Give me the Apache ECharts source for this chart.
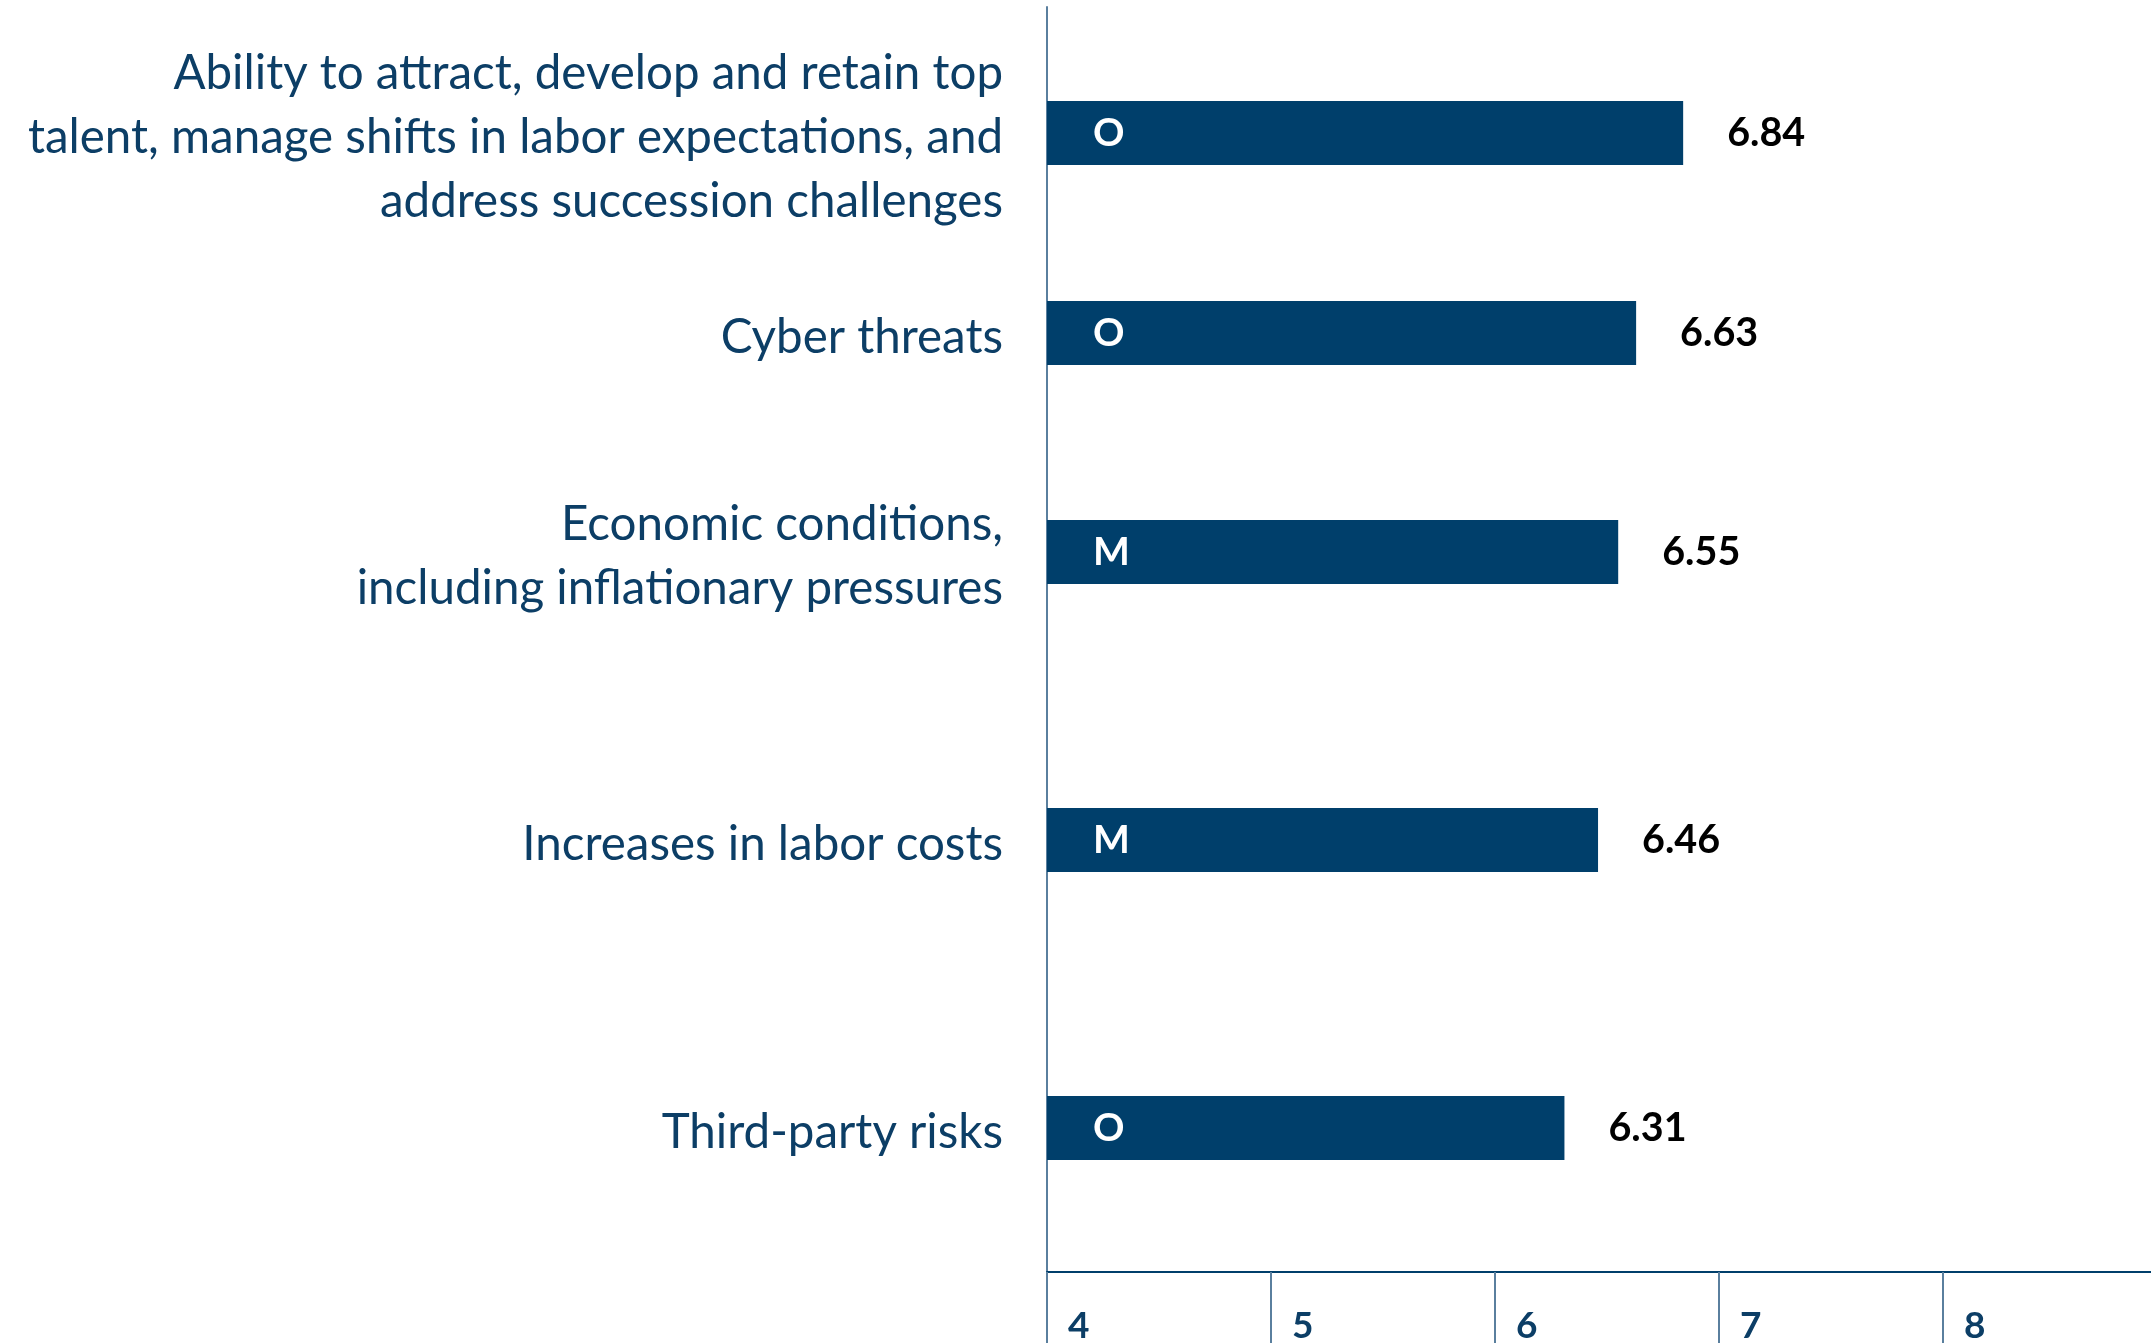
<!DOCTYPE html>
<html>
<head>
<meta charset="utf-8">
<script src="https://cdn.jsdelivr.net/npm/echarts@6/dist/echarts.min.js"></script>
<style>
  html, body { margin: 0; padding: 0; background: #ffffff; }
  #chart { width: 2151px; height: 1343px; }
</style>
</head>
<body>
<div id="chart"></div>
<script>
// Top risks, average score
const categories = [
  'Ability to attract, develop and retain top\ntalent, manage shifts in labor expectations, and\naddress succession challenges',
  'Cyber threats',
  'Economic conditions,\nincluding inflationary pressures',
  'Increases in labor costs',
  'Third-party risks'
];
const scores = [6.84, 6.63, 6.55, 6.46, 6.31];
const riskTypes = ['O', 'O', 'M', 'M', 'O'];
const axisMin = 4;
const axisMax = 9;
const axisStep = 1;

// Layout
const plotLeft = 1047;
const unitPx = 224;
const plotWidth = (axisMax - axisMin) * unitPx;
const plotTop = 7;
const plotBottom = 1272;
const rowCenters = [133, 333, 552, 840, 1128];
const barHeight = 64;
const labelDrop = 5; // row titles sit a little below the bar centre line

const NAVY = '#003f6b';
const TEXT = '#0c3e66';
const AXIS = '#5a7f9e';
const FONT = 'Lato, "Noto Sans", sans-serif';

const grids = [{
  left: plotLeft, top: plotTop, width: plotWidth, height: plotBottom - plotTop,
  containLabel: false, outerBoundsMode: 'none'
}];
const xAxes = [{
  gridIndex: 0, type: 'value', min: axisMin, max: axisMax, interval: axisStep,
  axisLine: { show: true, onZero: false, lineStyle: { color: NAVY, width: 2 } },
  axisTick: { show: true, length: 80, lineStyle: { color: AXIS, width: 2 } },
  axisLabel: {
    show: true, color: TEXT, fontFamily: FONT, fontWeight: 'bold', fontSize: 37,
    align: 'left', verticalAlign: 'top', margin: 36, padding: [0, 0, 0, 21],
    hideOverlap: false
  },
  splitLine: { show: false }
}];
const yAxes = [{
  gridIndex: 0, type: 'value', min: 0, max: 1,
  axisLine: { show: true, onZero: false, lineStyle: { color: AXIS, width: 2 } },
  axisTick: { show: false }, axisLabel: { show: false }, splitLine: { show: false }
}];
const series = [];

categories.forEach((name, i) => {
  const barGrid = grids.length;
  // grid holding the bar
  grids.push({
    left: plotLeft, top: rowCenters[i] - barHeight / 2, width: plotWidth, height: barHeight,
    containLabel: false, outerBoundsMode: 'none'
  });
  xAxes.push({ gridIndex: barGrid, type: 'value', min: axisMin, max: axisMax, startValue: axisMin, show: false });
  yAxes.push({
    gridIndex: barGrid, type: 'category', data: [name], show: false
  });
  // grid carrying the row title
  const titleGrid = grids.length;
  grids.push({
    left: plotLeft, top: rowCenters[i] - barHeight / 2 + labelDrop, width: plotWidth, height: barHeight,
    containLabel: false, outerBoundsMode: 'none'
  });
  xAxes.push({ gridIndex: titleGrid, type: 'value', min: axisMin, max: axisMax, show: false });
  yAxes.push({
    gridIndex: titleGrid, type: 'category', data: [name],
    axisLine: { show: false }, axisTick: { show: false }, splitLine: { show: false },
    axisLabel: {
      color: TEXT, fontFamily: FONT, fontSize: 47.5, lineHeight: 64,
      align: 'right', margin: 44
    }
  });
  // bar with the risk-type letter inside
  series.push({
    type: 'bar', xAxisIndex: barGrid, yAxisIndex: barGrid, data: [scores[i]],
    barWidth: barHeight, barGap: '-100%', silent: true,
    itemStyle: { color: NAVY },
    label: {
      show: true, position: 'insideLeft', distance: 46, formatter: riskTypes[i],
      color: '#ffffff', fontFamily: FONT, fontWeight: 'bold', fontSize: 39
    }
  });
  // transparent twin carrying the score label
  series.push({
    type: 'bar', xAxisIndex: barGrid, yAxisIndex: barGrid, data: [scores[i]],
    barWidth: barHeight, barGap: '-100%', silent: true,
    itemStyle: { color: 'rgba(0,0,0,0)' },
    label: {
      show: true, position: 'right', distance: 44,
      formatter: (p) => p.value.toFixed(2),
      color: '#000000', fontFamily: FONT, fontWeight: 'bold', fontSize: 39.5
    }
  });
});

const chart = echarts.init(document.getElementById('chart'), null, { renderer: 'canvas' });
chart.setOption({
  backgroundColor: '#ffffff',
  animation: false,
  grid: grids,
  xAxis: xAxes,
  yAxis: yAxes,
  series: series
});
</script>
</body>
</html>
